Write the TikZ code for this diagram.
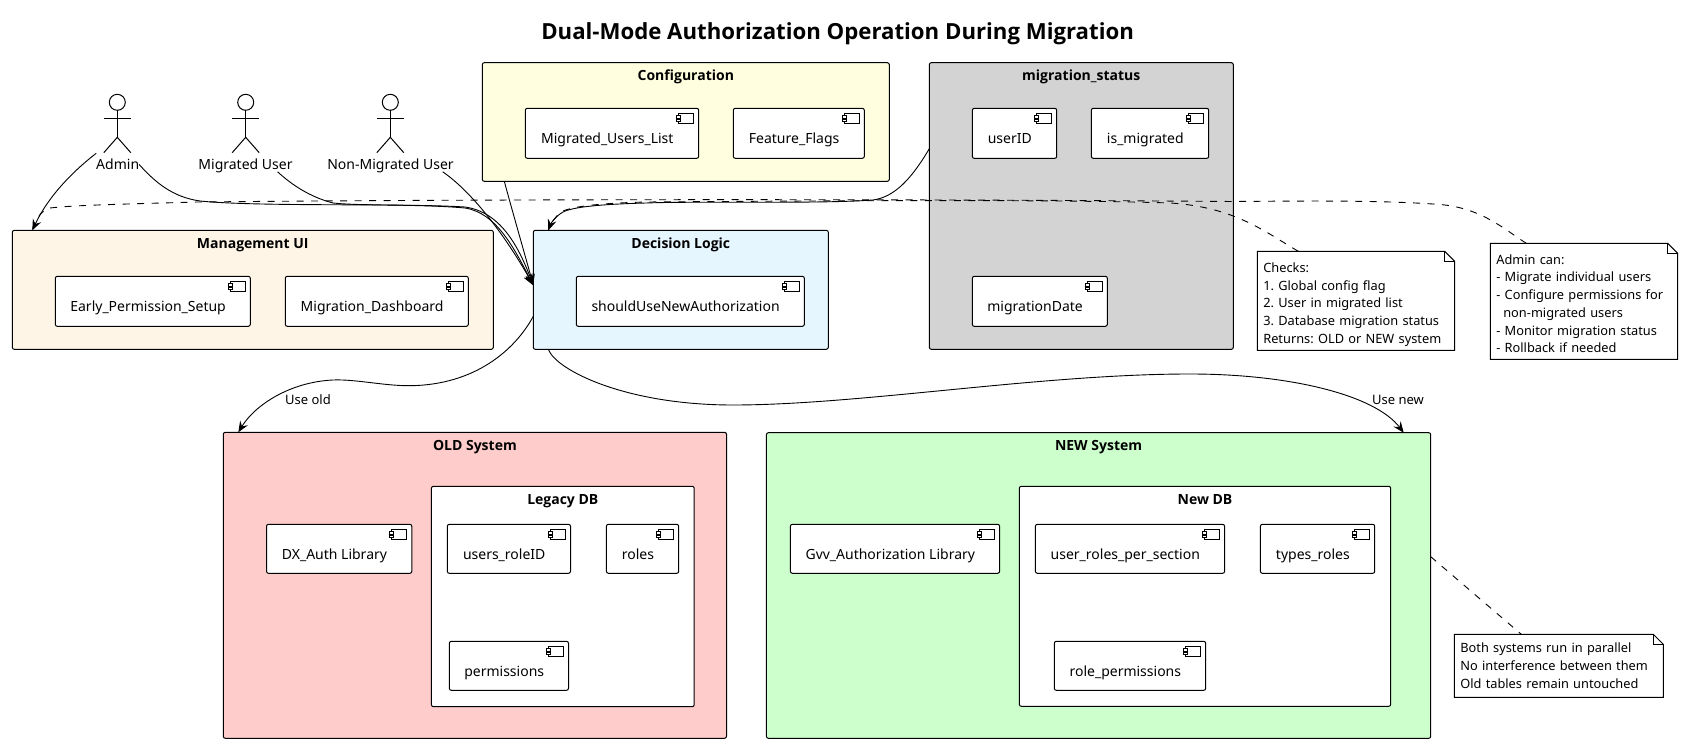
\documentclass[tikz,border=0pt]{standalone}
\usepackage{fontspec}
\setmainfont{Noto Sans}
\newfontfamily\headfont{Open Sans}
\usetikzlibrary{positioning,arrows.meta}

\definecolor{configfill}{HTML}{FFFFE0}
\definecolor{statusfill}{HTML}{D3D3D3}
\definecolor{mgmtfill}{HTML}{FEF5E6}
\definecolor{decisionfill}{HTML}{E6F6FF}
\definecolor{oldfill}{HTML}{FFCCCC}
\definecolor{newfill}{HTML}{CCFFCC}

\begin{document}
\begin{tikzpicture}[
  x=1pt, y=-1pt,
  every node/.style={font=\fontsize{14}{17}\selectfont, outer sep=0pt},
  groupbox/.style={shape=rectangle, rounded corners=2pt, draw, line width=1pt, anchor=north west, inner sep=0pt},
  grouptitle/.style={font=\headfont\fontsize{14}{17}\selectfont\bfseries, anchor=north, inner sep=0pt, text height=11pt, text depth=3pt, yshift=-6.8pt},
  compbox/.style={shape=rectangle, rounded corners=2pt, draw, line width=1pt, fill=white, anchor=north west, inner sep=0pt,
    minimum height=50pt, text height=24.5pt, text depth=4pt, execute at end node={\hspace*{9.4pt}},
    path picture={
      \draw[sharp corners, line width=.9pt] ([shift={(-20pt,-5pt)}]path picture bounding box.north east) rectangle ([shift={(-5pt,-15pt)}]path picture bounding box.north east);
      \draw[sharp corners, line width=.9pt, fill=white] ([shift={(-22pt,-7pt)}]path picture bounding box.north east) rectangle ([shift={(-18pt,-9.7pt)}]path picture bounding box.north east);
      \draw[sharp corners, line width=.9pt, fill=white] ([shift={(-22pt,-10.7pt)}]path picture bounding box.north east) rectangle ([shift={(-18pt,-13.4pt)}]path picture bounding box.north east);
    }},
  notebox/.style={shape=rectangle, anchor=north west, inner xsep=6pt, inner ysep=0pt, align=left,
    font=\fontsize{12.8}{17.75}\selectfont\frenchspacing,
    append after command={\pgfextra{
      \draw[line width=1pt, line join=miter] (\tikzlastnode.north west) -- ([xshift=-10pt]\tikzlastnode.north east) -- ([yshift=-10pt]\tikzlastnode.north east) -- (\tikzlastnode.south east) -- (\tikzlastnode.south west) -- cycle;
      \draw[line width=1pt] ([xshift=-10pt]\tikzlastnode.north east) -- ([shift={(-10pt,-10pt)}]\tikzlastnode.north east) -- ([yshift=-10pt]\tikzlastnode.north east);
    }}},
  actorname/.style={inner sep=0pt, text height=11pt, text depth=3.5pt},
  flowname/.style={font=\fontsize{13}{16}\selectfont, inner sep=0pt},
  flow/.style={draw, line width=.9pt, -{Stealth[length=11pt,width=9pt,inset=4pt]}},
  noteline/.style={draw, line width=.9pt, dash pattern=on 7pt off 7.5pt},
  stickman/.pic={
    \draw[line width=1pt] (0,0) circle (8pt);
    \draw[line width=1pt] (0,8) -- (0,35);
    \draw[line width=1pt] (-13.5,16) -- (13.5,16);
    \draw[line width=1pt] (-13.5,50.4) -- (0,35) -- (13.5,50.4);
  }
]
  \useasboundingbox (0,0) rectangle (1683,743);

  % Title
  \node[font=\headfont\fontsize{22.2}{26}\selectfont\bfseries] (title) at (837.6,34) {Dual-Mode Authorization Operation During Migration};

  % Actors
  \pic at (117.3,102.3) {stickman};
  \pic at (245.7,102.3) {stickman};
  \pic at (390.3,102.3) {stickman};
  \node[actorname] (admin) at (117.7,165.5) {Admin};
  \node[actorname] (migrated) at (245.5,165.5) {Migrated User};
  \node[actorname] (nonmigrated) at (390.5,165.5) {Non-Migrated User};

  % Configuration
  \node[groupbox, fill=configfill, minimum width=407pt, minimum height=118.6pt] (config) at (482.3,62.7) {};
  \node[grouptitle] (configtitle) at (config.north) {Configuration};
  \node[compbox, minimum width=173.4pt] (userslist) at (525.3,108.3) {Migrated\_Users\_List};
  \node[compbox, minimum width=131pt] (flags) at (733.3,108.3) {Feature\_Flags};

  % migration_status
  \node[groupbox, fill=statusfill, minimum width=304pt, minimum height=286.6pt] (status) at (929.3,62.7) {};
  \node[grouptitle] (statustitle) at (status.north) {migration\_status};
  \node[compbox, minimum width=84.4pt] (userid) at (972.3,108.3) {userID};
  \node[compbox, minimum width=117.4pt] (ismigrated) at (1091.3,108.3) {is\_migrated};
  \node[compbox, minimum width=135pt] (migdate) at (972.3,276.3) {migrationDate};

  % Management UI
  \node[groupbox, fill=mgmtfill, minimum width=481pt, minimum height=119pt] (mgmt) at (12.3,230.3) {};
  \node[grouptitle] (mgmttitle) at (mgmt.north) {Management UI};
  \node[compbox, minimum width=195pt] (earlysetup) at (55.3,276.3) {Early\_Permission\_Setup};
  \node[compbox, minimum width=183pt] (dashboard) at (285.3,276.3) {Migration\_Dashboard};

  % Decision Logic
  \node[groupbox, fill=decisionfill, minimum width=295pt, minimum height=119pt] (decision) at (533.3,230.3) {};
  \node[grouptitle] (decisiontitle) at (decision.north) {Decision Logic};
  \node[compbox, minimum width=228pt] (shoulduse) at (576.3,276.3) {shouldUseNewAuthorization};

  % OLD System
  \node[groupbox, fill=oldfill, minimum width=503.2pt, minimum height=306pt] (old) at (223.3,432.3) {};
  \node[grouptitle] (oldtitle) at (old.north) {OLD System};
  \node[compbox, minimum width=145.3pt, minimum height=49pt] (dxauth) at (266.5,524.3) {DX\_Auth Library};
  \node[groupbox, fill=white, minimum width=262.8pt, minimum height=220.4pt] (legacydb) at (431.4,486.3) {};
  \node[grouptitle] (legacytitle) at (legacydb.north) {Legacy DB};
  \node[compbox, minimum width=123.2pt, minimum height=49pt] (usersrole) at (447.3,524.3) {users\_roleID};
  \node[compbox, minimum width=72.3pt, minimum height=49pt] (roles) at (606.4,524.3) {roles};
  \node[compbox, minimum width=119.2pt, minimum height=49pt] (permissions) at (449.3,641.3) {permissions};

  % NEW System
  \node[groupbox, fill=newfill, minimum width=664.3pt, minimum height=305.6pt] (new) at (766.4,432.7) {};
  \node[grouptitle] (newtitle) at (new.north) {NEW System};
  \node[compbox, minimum width=209.2pt, minimum height=49pt] (gvvauth) at (790.4,524.3) {Gvv\_Authorization Library};
  \node[groupbox, fill=white, minimum width=371.4pt, minimum height=220pt] (newdb) at (1019.3,486.3) {};
  \node[grouptitle] (newdbtitle) at (newdb.north) {New DB};
  \node[compbox, minimum width=189.2pt, minimum height=49pt] (userroles) at (1035.4,524.3) {user\_roles\_per\_section};
  \node[compbox, minimum width=114.3pt, minimum height=49pt] (typesroles) at (1260.4,524.3) {types\_roles};
  \node[compbox, minimum width=151.4pt, minimum height=49pt] (rolepermissions) at (1054.3,641.3) {role\_permissions};

  % Notes
  \node[notebox, text width=185.4pt, minimum height=99pt] (checks) at (1257.3,251.3) {\rule{0pt}{17pt}Checks:\\1. Global config flag\\2. User in migrated list\\3. Database migration status\\Returns: OLD or NEW system};
  \node[notebox, text width=175.4pt, minimum height=116pt] (adminnote) at (1490.3,243.3) {\rule{0pt}{14.5pt}Admin can:\\- Migrate individual users\\- Configure permissions for\\\hspace*{7pt}non-migrated users\\- Monitor migration status\\- Rollback if needed};
  \node[notebox, text width=197pt, minimum height=63pt] (parallel) at (1454.3,634.3) {Both systems run in parallel\\No interference between them\\Old tables remain untouched};

  % Actor connectors
  \draw[flow] ([yshift=5pt]admin.north west) .. controls (72,172) and (48,197) .. ([xshift=20pt]mgmt.north west);
  \draw[flow] ([yshift=1pt]admin.east) .. controls (155,182) and (172,197) .. (200,201) .. controls (260,207) and (400,203) .. (465,207) .. controls (500,212) and (518,245) .. ([yshift=-55pt]decision.north west);
  \draw[flow] ([shift={(-15pt,1pt)}]migrated.south east) .. controls (292,185) and (310,197) .. (333,203) .. controls (360,206) and (420,204) .. (465,208) .. controls (497,213) and (515,250) .. ([yshift=-55pt]decision.north west);
  \draw[flow] ([shift={(-11pt,1pt)}]nonmigrated.south east) .. controls (472,192) and (505,235) .. ([yshift=-55pt]decision.north west);

  % Inputs of the decision
  \draw[flow] ([xshift=22pt]config.south west) .. controls (512,210) and (525,255) .. ([yshift=-55pt]decision.north west);
  \draw[flow] ([yshift=-86pt]status.north west) .. controls (912,178) and (895,197) .. (873,200) .. controls (820,204) and (700,201) .. (646,203) .. controls (610,204) and (575,206) .. (563,212) .. controls (556,216) and (551,223) .. ([xshift=15pt]decision.north west);

  % Decision outcome
  \draw[flow] ([yshift=-86pt]decision.north west) .. controls (515,350) and (475,385) .. (410,385.7) .. controls (385,386) and (355,379) .. (333,380) .. controls (290,382) and (255,405) .. ([xshift=15pt]old.north west);
  \draw[flow] ([xshift=15pt]decision.south west) .. controls (556,370) and (625,405) .. (733,405) .. controls (860,405) and (1040,374) .. (1190,374) .. controls (1290,374) and (1375,395) .. ([xshift=-27pt]new.north east);
  \node[flowname] (useold) at (308,400) {Use old};
  \node[flowname] (usenew) at (1398,400) {Use new};

  % Note connectors
  \draw[noteline] ([xshift=41pt]checks.north west) .. controls (1265,232) and (1235,207) .. (1170,203) .. controls (1050,199) and (800,201) .. (646,202) .. controls (610,203) and (578,205) .. (563,211) .. controls (556,215) and (551,223) .. ([xshift=15pt]decision.north west);
  \draw[noteline] ([xshift=36pt]adminnote.north west) .. controls (1505,230) and (1482,208) .. (1440,204.5) .. controls (1380,200) and (1300,201) .. (1233,201.5) .. controls (900,199) and (500,199) .. (197,202) .. controls (130,204) and (75,205) .. (50,208) .. controls (42,210) and (36,218) .. ([xshift=20pt]mgmt.north west);
  \draw[noteline] ([yshift=-124pt]new.north east) -- ([xshift=67pt]parallel.north west);
\end{tikzpicture}
\end{document}
